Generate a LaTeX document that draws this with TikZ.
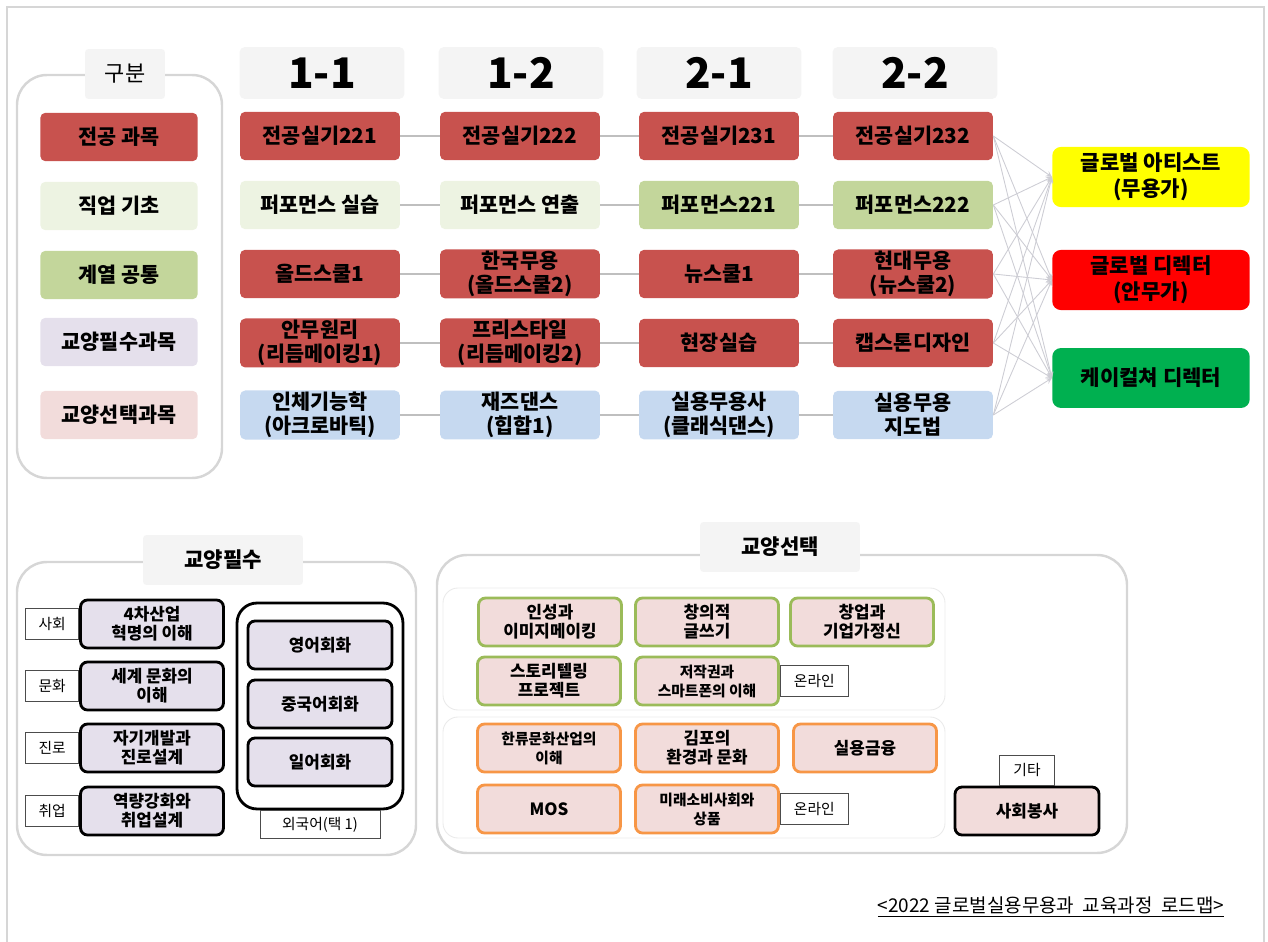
\documentclass[tikz,border=0pt]{standalone}
\usepackage{fontspec}
\setmainfont{Noto Sans CJK KR}
\usetikzlibrary{positioning}

\definecolor{majorred}{RGB}{200,82,78}
\definecolor{jobgreen}{RGB}{237,243,226}
\definecolor{commongreen}{RGB}{195,214,155}
\definecolor{reqpurple}{RGB}{229,224,236}
\definecolor{electpink}{RGB}{242,220,219}
\definecolor{dancerblue}{RGB}{198,217,240}
\definecolor{headgray}{RGB}{244,244,244}
\definecolor{framegray}{RGB}{214,214,214}
\definecolor{linkgray}{RGB}{191,191,191}
\definecolor{arrowgray}{RGB}{205,205,212}
\definecolor{outyellow}{RGB}{255,255,0}
\definecolor{outred}{RGB}{255,0,0}
\definecolor{outgreen}{RGB}{0,176,80}
\definecolor{leafgreen}{RGB}{155,187,89}
\definecolor{tangerine}{RGB}{247,150,70}

\begin{document}
\begin{tikzpicture}
[x=0.02cm, y=-0.02cm,
  coursebox/.style={shape=rectangle,rounded corners=3pt,minimum width=3.2cm,minimum height=0.97cm,align=center,inner sep=1pt,font=\fontsize{11.8}{13.5}\selectfont\bfseries},%
  legendbox/.style={coursebox,minimum width=3.15cm},%
  headbox/.style={shape=rectangle,rounded corners=3pt,fill=headgray,minimum width=3.3cm,minimum height=1.04cm,font=\fontsize{24}{26}\selectfont\bfseries},%
  titlebox/.style={shape=rectangle,rounded corners=2pt,fill=headgray,minimum width=3.2cm,minimum height=1cm,font=\fontsize{12}{14}\selectfont\bfseries},%
  outbox/.style={shape=rectangle,rounded corners=5pt,minimum width=3.95cm,minimum height=1.2cm,align=center,font=\fontsize{12}{15}\selectfont\bfseries},%
  framebox/.style={draw=framegray,line width=1.4pt,rounded corners=0.6cm},%
  groupframe/.style={draw=headgray!90!black!60,line width=0.5pt,rounded corners=0.3cm},%
  smallbox/.style={shape=rectangle,rounded corners=4pt,minimum width=2.86cm,minimum height=0.96cm,align=center,inner sep=1pt,font=\fontsize{9.6}{10.8}\selectfont\bfseries},%
  reqbox/.style={smallbox,draw=black,line width=1.6pt,fill=reqpurple},%
  greenbox/.style={smallbox,draw=leafgreen,line width=1.6pt,fill=electpink},%
  orangebox/.style={smallbox,draw=tangerine,line width=1.6pt,fill=electpink},%
  tagbox/.style={shape=rectangle,draw=black!70,line width=0.5pt,fill=white,minimum width=1.06cm,minimum height=0.62cm,inner sep=1pt,font=\fontsize{8.4}{9.5}\selectfont},%
  linedecorate/.style={-,line width=1.6pt,draw=linkgray},%
  arrowdecorate/.style={->,>=stealth,line width=0.5pt,draw=arrowgray}]
\useasboundingbox (0,0) rectangle (1268,942);
\draw[draw=framegray,line width=0.8pt] (7,942) -- (7,7) -- (1264,7) -- (1264,942);

%% legend
\draw[framebox] (17,75) rectangle (222,478);
\node (legendtitle) at (125,74) [titlebox,minimum width=1.6cm,font=\fontsize{12.5}{14}\selectfont] {구분};
\foreach \nodename/\y/\fillcol/\txt in {k1/137/majorred/전공 과목, k2/206/jobgreen/직업 기초,
  k3/275/commongreen/계열 공통, k4/342/reqpurple/교양필수과목, k5/415/electpink/교양선택과목} {
  \node (\nodename) at (119,\y) [legendbox,fill=\fillcol] {\txt};
}

%% semesters
\foreach \nodename/\x/\txt in {h1/322/1-1, h2/521/1-2, h3/719/2-1, h4/915/2-2} {
  \node (\nodename) at (\x,73) [headbox] {\txt};
}

%% courses
\foreach \nodename/\x/\y/\fillcol/\txt in {
  c11/320/136/majorred/전공실기221, c12/520/136/majorred/전공실기222,
  c13/719/136/majorred/전공실기231, c14/913/136/majorred/전공실기232,
  c21/320/205/jobgreen/퍼포먼스 실습, c22/520/205/jobgreen/퍼포먼스 연출,
  c23/719/205/commongreen/퍼포먼스221, c24/913/205/commongreen/퍼포먼스222,
  c31/320/274/majorred/올드스쿨1, c32/520/274/majorred/{한국무용\\(올드스쿨2)},
  c33/719/274/majorred/뉴스쿨1, c34/913/274/majorred/{현대무용\\(뉴스쿨2)},
  c41/320/343/majorred/{안무원리\\(리듬메이킹1)}, c42/520/343/majorred/{프리스타일\\(리듬메이킹2)},
  c43/719/343/majorred/현장실습, c44/913/343/majorred/캡스톤디자인,
  c51/320/415/dancerblue/{인체기능학\\(아크로바틱)}, c52/520/415/dancerblue/{재즈댄스\\(힙합1)},
  c53/719/415/dancerblue/{실용무용사\\(클래식댄스)}, c54/913/415/dancerblue/{실용무용\\지도법}} {
  \node (\nodename) at (\x,\y) [coursebox,fill=\fillcol] {\txt};
}
\foreach \row in {1,...,5} {
  \draw[linedecorate] (c\row1) -- (c\row2) (c\row2) -- (c\row3) (c\row3) -- (c\row4);
}

%% careers
\foreach \nodename/\y/\fillcol/\txt in {o1/177/outyellow/{글로벌 아티스트\\(무용가)},
  o2/280/outred/{글로벌 디렉터\\(안무가)}, o3/378/outgreen/케이컬쳐 디렉터} {
  \node (\nodename) at (1151,\y) [outbox,fill=\fillcol] {\txt};
}
\foreach \row in {1,...,5} {
  \foreach \job in {1,2,3} {
    \draw[arrowdecorate] (c\row4.east) -- (o\job.west);
  }
}

%% required liberal arts
\draw[framebox] (17,562) rectangle (416,855);
\node (reqtitle) at (223,560) [titlebox] {교양필수};
\foreach \nodename/\y/\lab/\txt in {r1/624/사회/{4차산업\\혁명의 이해}, r2/686/문화/{세계 문화의\\이해},
  r3/748/진로/{자기개발과\\진로설계}, r4/811/취업/{역량강화와\\취업설계}} {
  \node (\nodename) at (152,\y) [reqbox] {\txt};
  \node (\nodename tag) [tagbox,left=0pt of \nodename] {\lab};
}
\node (langgroup) at (320,706) [shape=rectangle,draw=black,line width=1.6pt,rounded corners=0.4cm,
  minimum width=3.32cm,minimum height=4.12cm] {};
\foreach \nodename/\y/\txt in {l1/645/영어회화, l2/704/중국어회화, l3/762/일어회화} {
  \node (\nodename) at (320,\y) [reqbox,minimum width=2.88cm] {\txt};
}
\node (langtag) [tagbox,minimum width=2.4cm,minimum height=0.56cm,below=0pt of langgroup] {외국어(택 1)};

%% elective liberal arts
\draw[framebox] (437,555) rectangle (1127,853);
\node (electtitle) at (780,547) [titlebox] {교양선택};
\draw[groupframe] (443,588) rectangle (945,710);
\draw[groupframe] (443,717) rectangle (945,838);
\foreach \nodename/\x/\y/\txt in {e1/550/622/{인성과\\이미지메이킹}, e2/707/622/{창의적\\글쓰기},
  e3/862/622/{창업과\\기업가정신}, e4/549/681/{스토리텔링\\프로젝트},
  e5/707/681/{\fontsize{8.4}{9.8}\selectfont 저작권과\\\fontsize{8.4}{9.8}\selectfont 스마트폰의 이해}} {
  \node (\nodename) at (\x,\y) [greenbox] {\txt};
}
\foreach \nodename/\x/\y/\txt in {e6/549/748/{\fontsize{8.4}{9.8}\selectfont 한류문화산업의\\\fontsize{8.4}{9.8}\selectfont 이해},
  e7/707/748/{김포의\\환경과 문화}, e8/865/748/실용금융, e9/549/809/MOS,
  e10/707/809/{\fontsize{8.4}{9.8}\selectfont 미래소비사회와\\\fontsize{8.4}{9.8}\selectfont 상품}} {
  \node (\nodename) at (\x,\y) [orangebox] {\txt};
}
\node (online1) [tagbox,minimum width=1.36cm,right=0pt of e5] {온라인};
\node (online2) [tagbox,minimum width=1.36cm,right=0pt of e10] {온라인};
\node (service) at (1027,811) [smallbox,draw=black,line width=1.6pt,fill=electpink,minimum width=2.88cm] {사회봉사};
\node (servicetag) [tagbox,minimum width=1.1cm,minimum height=0.6cm,above=0pt of service] {기타};

%% caption
\node (caption) at (1051,907) [font=\fontsize{10.8}{12}\selectfont] {\underline{<2022 글로벌실용무용과\ \ 교육과정\ \ 로드맵>}};
\end{tikzpicture}
\end{document}
